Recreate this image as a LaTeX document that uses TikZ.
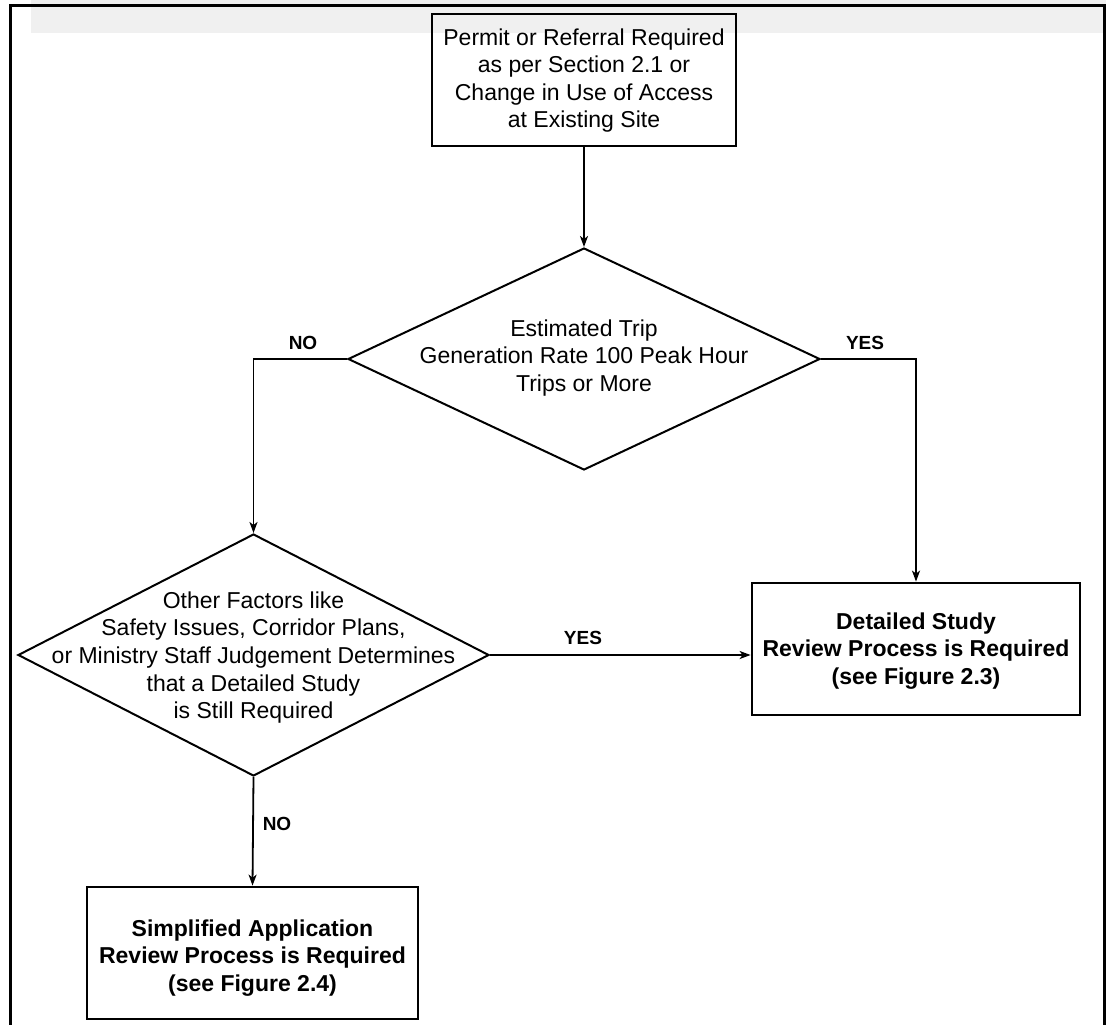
\documentclass[tikz,border=0pt]{standalone}
\usepackage{fontspec}
\setmainfont{Liberation Sans}
\usetikzlibrary{shapes.geometric,arrows.meta}
\begin{document}
\begin{tikzpicture}[x=1pt,y=-1pt,
  txt/.style={font=\fontsize{23}{27.6}\selectfont, align=center, inner sep=0pt},
  btxt/.style={font=\fontsize{23}{27.6}\selectfont\bfseries, align=center, inner sep=0pt},
  boxnode/.style={draw, line width=2.8pt, rectangle, inner sep=0pt},
  dia/.style={draw, line width=2pt, diamond, inner sep=0pt},
  conn/.style={line width=1.8pt},
  arr/.style={conn, -{Stealth[length=11pt,width=8pt,inset=3pt]}},
  lbl/.style={font=\fontsize{19}{22}\selectfont\bfseries, inner sep=0pt}
]
\useasboundingbox (0,0) rectangle (1106,1025);
% grey band and frame
\fill[black!6] (31,0) rectangle (1106,33);
\draw[line width=2.8pt] (10.7,1025) -- (10.7,5.7) -- (1104.5,5.7) -- (1104.5,1025);

% top box
\node[boxnode, minimum width=304pt, minimum height=132pt] (top) at (584,80) {};
\node[txt] (toptxt) at (584,80.5) {Permit or Referral Required\\as per Section 2.1 or\\Change in Use of Access\\at Existing Site};

% decision 1
\node[dia, minimum width=472pt, minimum height=222pt] (d1) at (584,359) {};
\node[txt] (d1txt) at (584,358) {Estimated Trip\\Generation Rate 100 Peak Hour\\Trips or More};

% decision 2
\node[dia, minimum width=471pt, minimum height=242pt] (d2) at (253.5,655) {};
\node[txt] (d2txt) at (253.5,657.5) {Other Factors like\\Safety Issues, Corridor Plans,\\or Ministry Staff Judgement Determines\\that a Detailed Study\\is Still Required};

% right box
\node[boxnode, minimum width=328pt, minimum height=132pt] (rbox) at (916,649) {};
\node[btxt] (rtxt) at (916,651) {Detailed Study\\Review Process is Required\\(see Figure 2.3)};

% bottom box
\node[boxnode, minimum width=331pt, minimum height=132pt] (bbox) at (252.5,953) {};
\node[btxt] (btxt1) at (252.5,958) {Simplified Application\\Review Process is Required\\(see Figure 2.4)};

% connectors
\draw[arr] (top.south) -- (d1.north);
\draw[arr] (d1.west) -| (d2.north);
\draw[arr] (d1.east) -| (rbox.north);
\draw[arr] (d2.east) -- (d2.east -| rbox.west);
\draw[arr] (d2.south) -- (bbox.north);

% labels
\node[lbl] (lno1) at (303,343) {NO};
\node[lbl] (lyes1) at (865,343) {YES};
\node[lbl] (lyes2) at (583,638) {YES};
\node[lbl] (lno2) at (277,824) {NO};
\end{tikzpicture}
\end{document}
